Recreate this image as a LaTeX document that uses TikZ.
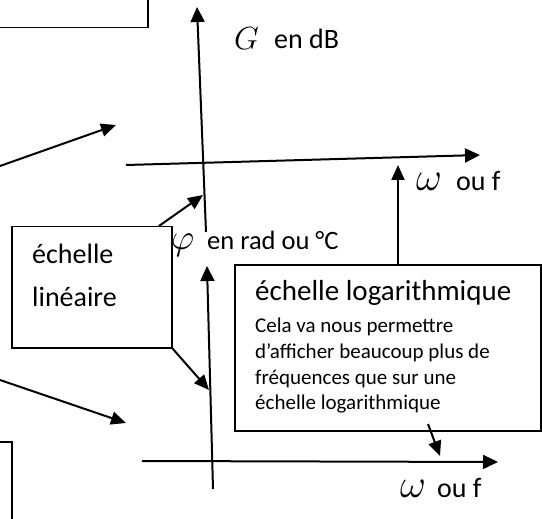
\RequirePackage{fix-cm}
\documentclass[tikz,border=0pt]{standalone}
\usepackage{fontspec}
\setmainfont{Carlito}
\usetikzlibrary{arrows.meta}
\begin{document}
\begin{tikzpicture}[x=1pt,y=-1pt,
  ax/.style={line width=2pt,-{Triangle[length=15pt,width=14pt]}},
  arr/.style={line width=2pt,-{Triangle[length=15pt,width=13pt]}},
  plain/.style={line width=2pt},
  bx/.style={draw,line width=1.5pt,inner sep=0pt,anchor=north west},
  big/.style={font=\fontsize{28}{34}\selectfont,inner sep=0pt,anchor=base west},
  small/.style={font=\fontsize{21}{25}\selectfont,inner sep=0pt,anchor=base west},
  sym/.style={inner sep=0pt,anchor=base west}]
\useasboundingbox (0,0) rectangle (542,519);
\clip (0,0) rectangle (542,519);
% boxes
\node[bx,minimum width=167pt,minimum height=47pt] (tl) at (-20,-20) {};
\node[bx,minimum width=160pt,minimum height=121pt] (lin) at (11,226) {};
\node[bx,minimum width=306pt,minimum height=166pt] (log) at (234,264) {};
\node[bx,minimum width=40pt,minimum height=100pt] (bl) at (-29,441) {};
% axes
\coordinate (gTop) at (197,7);
\coordinate (gBot) at (206,232);
\coordinate (h1L) at (126,165);
\coordinate (h1R) at (480,155);
\coordinate (pTop) at (207,266);
\coordinate (pBot) at (213,489);
\coordinate (h2L) at (142,461);
\coordinate (h2R) at (498,462);
\draw[ax] (gBot) -- (gTop);
\draw[ax] (h1L) -- (h1R);
\draw[ax] (pBot) -- (pTop);
\draw[ax] (h2L) -- (h2R);
% pointer arrows
\coordinate (a1s) at (0,166);
\coordinate (a1e) at (116,125);
\draw[arr] (a1s) -- (a1e);
\coordinate (a2s) at (0,380);
\coordinate (a2e) at (126,423);
\draw[arr] (a2s) -- (a2e);
\coordinate (l1s) at (159,226);
\coordinate (l1e) at (203,195);
\draw[arr] (l1s) -- (l1e);
\coordinate (l2e) at (209,390);
\draw[arr] (lin.south east) -- (l2e);
\coordinate (upS) at (398,264);
\coordinate (upE) at (398,165);
\draw[arr] (upS) -- (upE);
\coordinate (dnS) at (428,424);
\coordinate (dnE) at (440,456);
\draw[arr] (dnS) -- (dnE);
% labels
\node[sym,font=\fontsize{32}{36}\selectfont] (G) at (234,50) {$G$};
\node[big] (Gu) at (274,49) {en dB};
\node[sym,font=\fontsize{36}{40}\selectfont] (phi) at (171,250) {$\varphi$};
\node[big,font=\fontsize{26.5}{32}\selectfont] (phiu) at (207,250) {en rad ou °C};
\node[sym,font=\fontsize{40}{44}\selectfont] (w1) at (416,190) {$\omega$};
\node[big] (w1u) at (456,190) {ou f};
\node[sym,font=\fontsize{40}{44}\selectfont] (w2) at (400,497) {$\omega$};
\node[big] (w2u) at (437,497) {ou f};
\node[big] (lin1) at (32,263) {échelle};
\node[big] (lin2) at (32,306) {linéaire};
\node[big,font=\fontsize{29}{34}\selectfont] (logt) at (255,300) {échelle logarithmique};
\node[small] (s1) at (255,332) {Cela va nous permettre};
\node[small] (s2) at (255,358) {d’afficher beaucoup plus de};
\node[small] (s3) at (255,384) {fréquences que sur une};
\node[small] (s4) at (255,409) {échelle logarithmique};
\end{tikzpicture}
\end{document}
